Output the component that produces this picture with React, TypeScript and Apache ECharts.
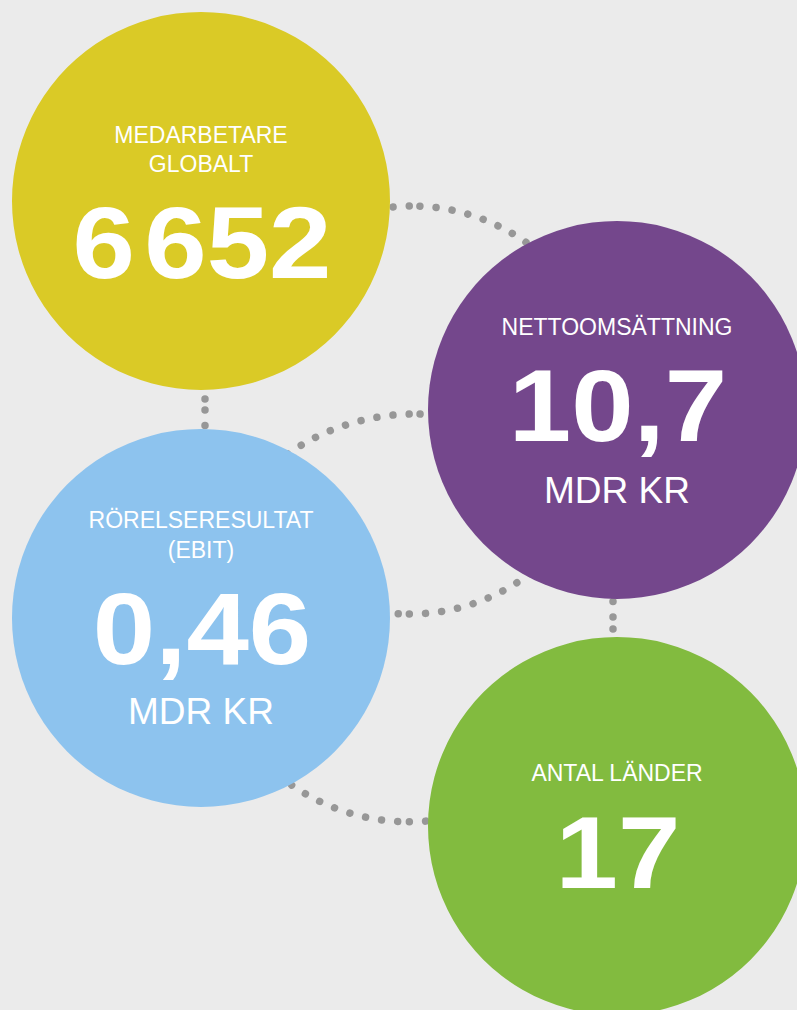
import React, { useEffect, useRef } from "react";
import * as echarts from "echarts";

// ---- data ----
const labels: string[][] = [
  ["MEDARBETARE", "GLOBALT"],
  ["NETTOOMSÄTTNING"],
  ["RÖRELSERESULTAT", "(EBIT)"],
  ["ANTAL LÄNDER"],
];
const values: string[] = ["6\u200A652", "10,7", "0,46", "17"];
const units: string[] = ["", "MDR KR", "MDR KR", ""];

// ---- layout & style ----
const colors = ["#DACA26", "#74478C", "#8DC3EE", "#82BB3F"];
const centers = [
  [201, 201],
  [617, 410],
  [201, 618],
  [617, 826],
];
const R = 189;
const labelY = [[134.5, 163.5], [326.5], [519.5, 549.5], [773]];
const valueY = [242.5, 405.5, 628.5, 852.5];
const unitY = [0, 490.5, 711.5, 0];

const DOT = "#979797";
const arcs = [
  { cx: 412, cy: 403, r: 197, from: -87.7, to: -50 },
  { cx: 412, cy: 403, r: 197, from: -90.8, to: -100 },
  { cx: 415, cy: 637, r: 223, from: -88.7, to: -85 },
  { cx: 415, cy: 637, r: 223, from: -91.5, to: -126 },
  { cx: 410, cy: 415.5, r: 198.5, from: 90.2, to: 52 },
  { cx: 410, cy: 415.5, r: 198.5, from: 93.4, to: 100 },
  { cx: 409, cy: 616, r: 205.8, from: 93.15, to: 130 },
  { cx: 409, cy: 616, r: 205.8, from: 89.9, to: 80 },
];
const vlines = [
  { x: 205, y1: 399, y2: 380 },
  { x: 205, y1: 410, y2: 445 },
  { x: 613, y1: 617, y2: 588 },
  { x: 613, y1: 629, y2: 650 },
];

const FONT = "'Liberation Sans', Arial, Helvetica, sans-serif";

function textEl(
  text: string,
  x: number,
  y: number,
  size: number,
  weight: string,
  sx = 1
) {
  return {
    type: "text",
    x,
    y,
    scaleX: sx,
    z: 10,
    style: {
      text,
      fill: "#ffffff",
      fontSize: size,
      fontWeight: weight,
      fontFamily: FONT,
      align: "center",
      verticalAlign: "middle",
      textAlign: "center",
      textVerticalAlign: "middle",
    },
  };
}

export default function App() {
  const ref = useRef<HTMLDivElement>(null);
  useEffect(() => {
    document.body.style.margin = "0";
    const chart = echarts.init(ref.current!, undefined, { renderer: "svg" });
    const els: any[] = [];
    const rad = Math.PI / 180;
    arcs.forEach((a) => {
      els.push({
        type: "arc",
        z: 1,
        shape: {
          cx: a.cx,
          cy: a.cy,
          r: a.r,
          startAngle: a.from * rad,
          endAngle: a.to * rad,
          clockwise: a.to > a.from,
        },
        style: {
          fill: "none",
          stroke: DOT,
          lineWidth: 7.5,
          lineCap: "round",
          lineDash: [0.01, 16.2],
        },
      });
    });
    vlines.forEach((l) => {
      els.push({
        type: "line",
        z: 1,
        shape: { x1: l.x, y1: l.y1, x2: l.x, y2: l.y2 },
        style: {
          stroke: DOT,
          lineWidth: 7.5,
          lineCap: "round",
          lineDash: [0.01, 15.5],
        },
      });
    });
    centers.forEach((c, i) => {
      els.push({
        type: "circle",
        z: 5,
        shape: { cx: c[0], cy: c[1], r: R },
        style: { fill: colors[i] },
      });
      labels[i].forEach((t, j) => {
        els.push(textEl(t, c[0], labelY[i][j], 23, "normal"));
      });
      els.push(textEl(values[i], c[0] + 1, valueY[i], 102, "bold", 1.1));
      if (units[i]) els.push(textEl(units[i], c[0], unitY[i], 37, "normal"));
    });
    chart.setOption({
      animation: false,
      backgroundColor: "#EBEBEB",
      graphic: { elements: els },
    });
    return () => chart.dispose();
  }, []);
  return (
    <div
      ref={ref}
      style={{ position: "absolute", left: 0, top: 0, width: 797, height: 1010 }}
    />
  );
}
